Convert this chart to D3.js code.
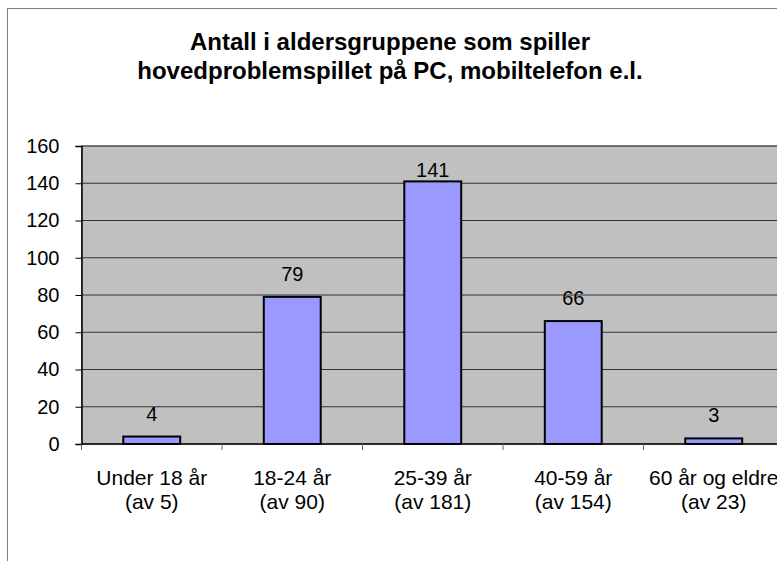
<!DOCTYPE html>
<html>
<head>
<meta charset="utf-8">
<script src="https://cdn.jsdelivr.net/npm/d3@7"></script>
<style>
  body { margin: 0; background: #fff; }
  svg { display: block; font-family: "Liberation Sans", Arial, sans-serif; }
</style>
</head>
<body>
<div id="chart"></div>
<script>
// data
var categories = ["Under 18 år", "18-24 år", "25-39 år", "40-59 år", "60 år og eldre"];
var subLabels = ["(av 5)", "(av 90)", "(av 181)", "(av 154)", "(av 23)"];
var counts = [4, 79, 141, 66, 3];
var yTicks = [0, 20, 40, 60, 80, 100, 120, 140, 160];
var titleLines = ["Antall i aldersgruppene som spiller", "hovedproblemspillet på PC, mobiltelefon e.l."];

var width = 777, height = 561;

var svg = d3.select("#chart").append("svg")
			.attr("width", width)
			.attr("height", height);

// outer chart frame (runs off the right and bottom)
svg.append("rect")
	.attr("x", 7.5)
	.attr("y", 8.5)
	.attr("width", 800)
	.attr("height", 600)
	.style("fill", "white")
	.style("stroke", "#808080")
	.style("stroke-width", 1);

// title
svg.append("g").selectAll("text")
	.data(titleLines)
	.enter().append("text")
		.attr("x", 390)
		.attr("y", function(d, i) {
			return 50 + i * 29;
		})
		.attr("text-anchor", "middle")
		.style("font-size", "24px")
		.style("font-weight", "bold")
		.text(function(d) { return d; });

var plotLeft = 81.5, plotRight = 784, plotTop = 146, plotBottom = 444;

var yScale = d3.scaleLinear()
				.domain([0, 160])
				.range([plotBottom, plotTop]);

var xScale = d3.scaleBand()
				.domain(categories)
				.range([plotLeft, plotRight])
				.paddingInner(0.595)
				.paddingOuter(0.2975);

var gap = (xScale.step() - xScale.bandwidth()) / 2;

// plot background
svg.append("rect")
	.attr("x", plotLeft)
	.attr("y", plotTop)
	.attr("width", plotRight - plotLeft)
	.attr("height", plotBottom - plotTop)
	.style("fill", "#c0c0c0")
	.style("stroke", "#808080")
	.style("stroke-width", 1);

// gridlines
svg.append("g").selectAll("line")
	.data(yTicks.slice(1))
	.enter().append("line")
		.attr("x1", plotLeft)
		.attr("x2", plotRight)
		.attr("y1", function(d) { return yScale(d); })
		.attr("y2", function(d) { return yScale(d); })
		.style("stroke", "#333")
		.style("stroke-width", 1);

// y axis
var yAxis = d3.axisLeft(yScale)
				.tickValues(yTicks)
				.tickSize(6)
				.tickPadding(16);

var gy = svg.append("g")
			.attr("transform", "translate(" + plotLeft + ",0)")
			.call(yAxis);
gy.select(".domain").style("stroke", "#000").style("stroke-width", 1.5);
gy.selectAll(".tick line").style("stroke", "#000");
gy.selectAll(".tick text")
	.style("font-size", "20px")
	.style("font-family", "Liberation Sans, Arial, sans-serif")
	.style("fill", "#000");

// x axis line and category separator ticks
svg.append("line")
	.attr("x1", plotLeft)
	.attr("x2", plotRight)
	.attr("y1", plotBottom)
	.attr("y2", plotBottom)
	.style("stroke", "#000")
	.style("stroke-width", 1.5);

svg.append("g").selectAll("line")
	.data(categories)
	.enter().append("line")
		.attr("x1", function(d) { return xScale(d) - gap; })
		.attr("x2", function(d) { return xScale(d) - gap; })
		.attr("y1", plotBottom)
		.attr("y2", plotBottom + 6)
		.style("stroke", "#666");

// bars
svg.append("g").selectAll("rect")
	.data(counts)
	.enter().append("rect")
		.attr("x", function(d, i) { return xScale(categories[i]); })
		.attr("y", function(d) { return yScale(d); })
		.attr("width", xScale.bandwidth())
		.attr("height", function(d) { return plotBottom - yScale(d); })
		.style("fill", "#9999ff")
		.style("stroke", "#000")
		.style("stroke-width", 2);

// value labels, kept inside the plot near the top
svg.append("g").selectAll("text")
	.data(counts)
	.enter().append("text")
		.attr("x", function(d, i) { return xScale(categories[i]) + xScale.bandwidth() / 2; })
		.attr("y", function(d) {
			return Math.max(yScale(d) - 16, yScale(160) + 31);
		})
		.attr("text-anchor", "middle")
		.style("font-size", "20px")
		.text(function(d) { return d; });

// category labels, two lines
var catLabels = svg.append("g").selectAll("text")
	.data(categories)
	.enter().append("text")
		.attr("x", function(d) { return xScale(d) + xScale.bandwidth() / 2; })
		.attr("y", 485)
		.attr("text-anchor", "middle")
		.style("font-size", "21px");

catLabels.append("tspan")
	.attr("x", function(d) { return xScale(d) + xScale.bandwidth() / 2; })
	.text(function(d) { return d; });

catLabels.append("tspan")
	.attr("x", function(d) { return xScale(d) + xScale.bandwidth() / 2; })
	.attr("dy", 24)
	.text(function(d, i) { return subLabels[i]; });
</script>
</body>
</html>
